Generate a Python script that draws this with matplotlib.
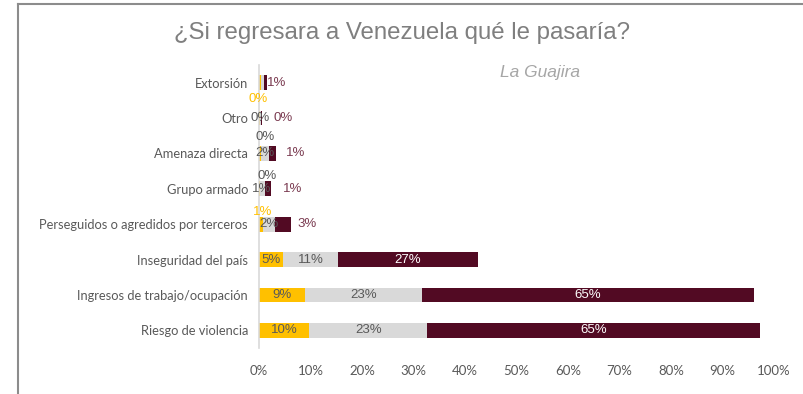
import matplotlib
matplotlib.use("Agg")
import matplotlib.pyplot as plt
from matplotlib.lines import Line2D

# de abajo hacia arriba
CATEGORIAS = [
    "Riesgo de violencia",
    "Ingresos de trabajo/ocupación",
    "Inseguridad del país",
    "Perseguidos o agredidos por terceros",
    "Grupo armado",
    "Amenaza directa",
    "Otro",
    "Extorsión",
]
AMARILLO = [9.8, 8.9, 4.7, 0.7, 0.1, 0.4, 0.2, 0.4]
GRIS = [22.8, 22.7, 10.6, 2.4, 1.0, 1.6, 0.2, 0.5]
VINO = [64.6, 64.6, 27.2, 3.1, 1.2, 1.3, 0.1, 0.6]
TICKS = [0, 10, 20, 30, 40, 50, 60, 70, 80, 90, 100]

C_AMARILLO = "#FFC000"
C_GRIS = "#D9D9D9"
C_VINO = "#520A23"
C_VINO_TXT = "#7A3A50"
C_TXT = "#595959"

FONT_CAT = ["Lato", "DejaVu Sans"]
FONT_NUM = ["Liberation Sans Narrow", "Liberation Sans", "DejaVu Sans"]
T_NUM = 9.5

# etiquetas de filas pequeñas: (fila, color, dx pt, dy pt) para la serie amarilla
ARRIBA = [(3, C_AMARILLO, 2.7, 9.0), (4, C_TXT, 5.8, 9.2), (5, C_TXT, 4.3, 11.5), (6, C_AMARILLO, -0.7, 13.7)]
# separación de la etiqueta vino en filas pequeñas (pt)
SEP_VINO = {3: 5.0, 4: 8.6, 5: 7.2, 6: 8.6, 7: 0.0}

fig = plt.figure(figsize=(8.04, 3.94), dpi=100)
ax = fig.add_axes([259 / 804, 1 - 348 / 394, 515 / 804, (348 - 65) / 394])

y = list(range(len(CATEGORIAS)))
h = 0.42
izq_gris = AMARILLO
izq_vino = [a + g for a, g in zip(AMARILLO, GRIS)]
ax.barh(y, AMARILLO, height=h, color=C_AMARILLO)
ax.barh(y, GRIS, height=h, left=izq_gris, color=C_GRIS)
ax.barh(y, VINO, height=h, left=izq_vino, color=C_VINO)

ax.set_xlim(0, 100)
ax.set_ylim(-0.5, len(CATEGORIAS) - 0.5)
ax.set_xticks(TICKS)
ax.set_xticklabels([f"{t}%" for t in TICKS], fontfamily=FONT_CAT, fontsize=9.5, color=C_TXT)
ax.set_yticks(y)
ax.set_yticklabels(CATEGORIAS, fontfamily=FONT_CAT, fontsize=9.3, color=C_TXT)
ax.tick_params(axis="both", length=0)
ax.tick_params(axis="x", pad=12)
ax.tick_params(axis="y", pad=8)
for s in ["top", "right", "bottom"]:
    ax.spines[s].set_visible(False)
ax.spines["left"].set_color("#D9D9D9")
ax.spines["left"].set_linewidth(1.2)

kw = dict(fontfamily=FONT_NUM, fontsize=T_NUM, va="center", ha="center")
for i in y:
    if i <= 2:
        ax.text(AMARILLO[i] / 2, i, f"{AMARILLO[i]:.0f}%", color=C_TXT, **kw)
        ax.text(izq_gris[i] + GRIS[i] / 2, i, f"{GRIS[i]:.0f}%", color=C_TXT, **kw)
        ax.text(izq_vino[i] + VINO[i] / 2, i, f"{VINO[i]:.0f}%", color="white", **kw)
    else:
        if i != 7:
            ax.text(izq_gris[i] + GRIS[i] / 2, i, f"{GRIS[i]:.0f}%", color=C_TXT, **kw)
        fin = izq_vino[i] + VINO[i]
        ax.annotate(f"{VINO[i]:.0f}%", (fin, i), xytext=(SEP_VINO[i], 0), textcoords="offset points",
                    color=C_VINO_TXT, fontfamily=FONT_NUM, fontsize=T_NUM, va="center", ha="left")

for fila, col, dx, dy in ARRIBA:
    ax.annotate(f"{AMARILLO[fila]:.0f}%", (0, fila), xytext=(dx, dy), textcoords="offset points",
                color=col, fontfamily=FONT_NUM, fontsize=T_NUM, va="center", ha="center")

fig.text(0.5, 1 - 33 / 394, "¿Si regresara a Venezuela qué le pasaría?", ha="center", va="center",
         fontfamily=["Liberation Sans", "DejaVu Sans"], fontsize=17.3, color="#7F7F7F")
fig.text(540 / 804, 1 - 73 / 394, "La Guajira", ha="center", va="center", style="italic",
         fontfamily=["Liberation Sans", "DejaVu Sans"], fontsize=12.5, color="#A6A6A6")

# marco
fig.add_artist(Line2D([18 / 804, 18 / 804], [0, 1 - 4 / 394], color="#8C8C8C", lw=1.5))
fig.add_artist(Line2D([18 / 804, 1], [1 - 4 / 394, 1 - 4 / 394], color="#8C8C8C", lw=1.5))

fig.savefig("out.png", dpi=100)
